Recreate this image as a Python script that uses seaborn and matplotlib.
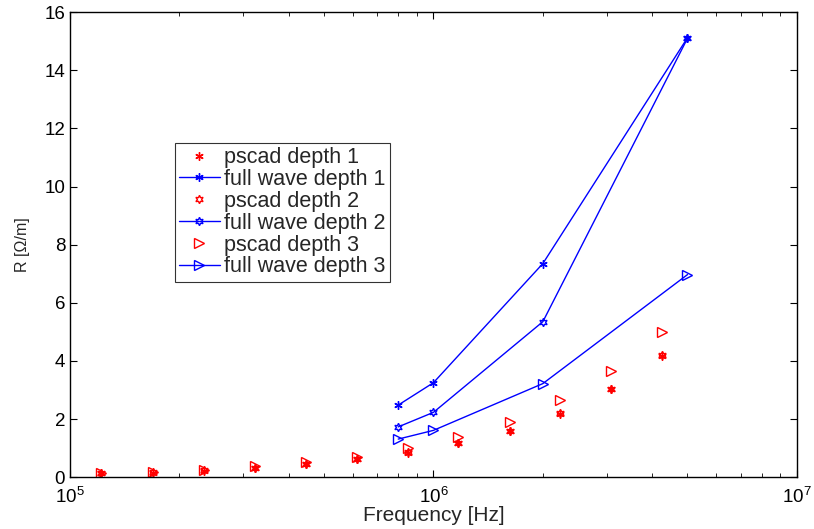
import matplotlib
matplotlib.use("Agg")
import matplotlib.pyplot as plt
import seaborn as sns

# pscad points (frequency in Hz)
pscad_freq = [1.22e5, 1.69e5, 2.34e5, 3.23e5, 4.46e5, 6.16e5,
              8.51e5, 1.17e6, 1.62e6, 2.23e6, 3.08e6, 4.25e6]
pscad_d1 = [0.13, 0.16, 0.22, 0.32, 0.44, 0.61, 0.84, 1.16, 1.58, 2.19, 3.03, 4.17]
pscad_d2 = [0.14, 0.17, 0.23, 0.33, 0.45, 0.62, 0.86, 1.18, 1.60, 2.21, 3.05, 4.20]
pscad_d3 = [0.15, 0.18, 0.26, 0.37, 0.51, 0.70, 1.01, 1.37, 1.90, 2.65, 3.65, 4.98]

# full wave points
fw_freq = [8e5, 1e6, 2e6, 5e6]
fw_d1 = [2.48, 3.25, 7.35, 15.12]
fw_d2 = [1.73, 2.23, 5.35, 15.10]
fw_d3 = [1.31, 1.61, 3.22, 6.97]

y_ticks = [0, 2, 4, 6, 8, 10, 12, 14, 16]

asterisk = (6, 2, 0)
hexagram = (6, 1, 0)


def main():
    sns.set_style("ticks")
    plt.rcParams["font.family"] = ["Liberation Sans", "DejaVu Sans"]
    plt.rcParams["mathtext.fontset"] = "custom"
    plt.rcParams["mathtext.rm"] = "Liberation Sans"
    plt.rcParams["mathtext.it"] = "Liberation Sans"

    fig = plt.figure(figsize=(8.14, 5.29), dpi=100)
    ax = fig.add_axes([0.086, 0.098, 0.893, 0.879])

    series = [
        (pscad_d1, pscad_freq, "red", asterisk, "", "pscad depth 1", 6),
        (fw_d1, fw_freq, "blue", asterisk, "-", "full wave depth 1", 6),
        (pscad_d2, pscad_freq, "red", hexagram, "", "pscad depth 2", 6),
        (fw_d2, fw_freq, "blue", hexagram, "-", "full wave depth 2", 6),
        (pscad_d3, pscad_freq, "red", ">", "", "pscad depth 3", 7),
        (fw_d3, fw_freq, "blue", ">", "-", "full wave depth 3", 7),
    ]
    for y, x, col, mk, ls, lab, ms in series:
        sns.lineplot(x=x, y=y, ax=ax, color=col, marker=mk, linestyle=ls,
                     markersize=ms, markerfacecolor="none",
                     markeredgecolor=col, markeredgewidth=1.0,
                     linewidth=1.0, label=lab, estimator=None, sort=False)

    ax.set_xscale("log")
    ax.set_xlim(1e5, 1e7)
    ax.set_ylim(0, 16)
    ax.set_yticks(y_ticks)
    ax.tick_params(which="both", direction="in", top=True, right=True,
                   labelsize=13.5, colors="black")
    ax.tick_params(which="major", length=5)
    ax.tick_params(which="minor", length=3)
    ax.tick_params(axis="x", which="major", pad=7)
    for sp in ax.spines.values():
        sp.set_linewidth(1.0)
        sp.set_color("black")
        sp.set_visible(True)

    ax.set_xlabel("Frequency [Hz]", fontsize=15, labelpad=-1)
    ax.set_ylabel("R [Ω/m]", fontsize=11.5, labelpad=10)

    leg = ax.legend(loc="upper left", bbox_to_anchor=(0.144, 0.719),
                    fontsize=15.5, numpoints=1, handlelength=1.9,
                    handletextpad=0.2, borderpad=0.2, labelspacing=0.04,
                    borderaxespad=0.0,
                    frameon=True, fancybox=False, edgecolor="black")
    leg.get_frame().set_linewidth(0.8)

    fig.savefig("out.png", dpi=100)
    plt.close(fig)


if __name__ == "__main__":
    main()
